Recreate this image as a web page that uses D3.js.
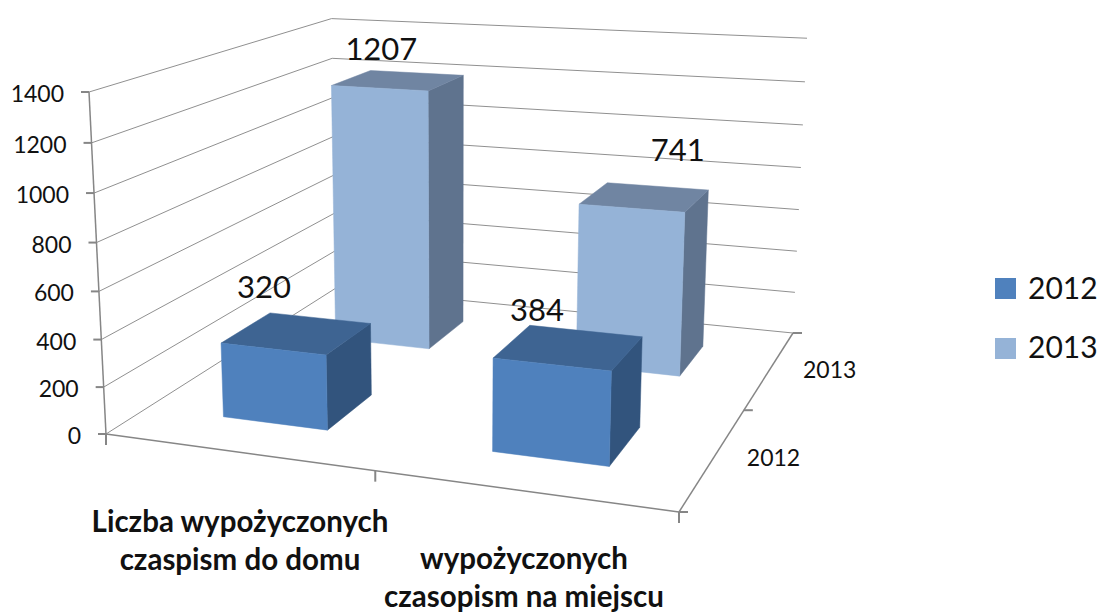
<!DOCTYPE html>
<html>
<head>
<meta charset="utf-8">
<script src="https://cdn.jsdelivr.net/npm/d3@7"></script>
<style>
  html, body { margin: 0; background: #fff; }
  text { font-family: Lato, "Open Sans", sans-serif; fill: #111; }
</style>
</head>
<body>
<div id="chart"></div>
<script>
// Data
const categories = ["Liczba wypożyczonych czaspism do domu", "wypożyczonych czasopism na miejscu"];
const series = ["2012", "2013"];
const values2012 = [320, 384];
const values2013 = [1207, 741];
const valueTicks = [0, 200, 400, 600, 800, 1000, 1200, 1400];

const width = 1102, height = 613;

const svg = d3.select("#chart")
    .append("svg")
    .attr("width", width)
    .attr("height", height);

// Corners of the 3D box in the picture, used to calibrate the projection
const floorFL = [106, 434], floorFR = [679, 512], floorBR = [793, 333], floorBL = [336, 288];
const topFL = [89, 92], topBR = [807, 40];

// Perspective matrix: floor homography plus a column for height
const dx1 = floorFR[0] - floorBR[0], dx2 = floorBL[0] - floorBR[0],
      dy1 = floorFR[1] - floorBR[1], dy2 = floorBL[1] - floorBR[1],
      sx = floorFL[0] - floorFR[0] + floorBR[0] - floorBL[0],
      sy = floorFL[1] - floorFR[1] + floorBR[1] - floorBL[1],
      den = dx1 * dy2 - dx2 * dy1;
const g = (sx * dy2 - dx2 * sy) / den,
      h = (dx1 * sy - sx * dy1) / den,
      a = floorFR[0] - floorFL[0] + g * floorFR[0],
      b = floorBL[0] - floorFL[0] + h * floorBL[0],
      c = floorFL[0],
      d = floorFR[1] - floorFL[1] + g * floorFR[1],
      e = floorBL[1] - floorFL[1] + h * floorBL[1],
      f = floorFL[1];
const r = (a + b + topFL[0] - topBR[0] * (g + h + 1)) / (topBR[0] - topFL[0]),
      p = topFL[0] * (1 + r) - c,
      q = topFL[1] * (1 + r) - f;

// u = along categories, w = depth, v = height, all 0..1
function project(u, w, v) {
    const z = g * u + h * w + 1 + r * v;
    return [(a * u + b * w + c + p * v) / z, (d * u + e * w + f + q * v) / z];
}

// Scales
const uScale = d3.scaleBand().domain(categories).range([0, 1]).paddingInner(0.6).paddingOuter(0.3);
const wScale = d3.scaleBand().domain(series).range([0, 1]).paddingInner(0.6).paddingOuter(0.3);
const vScale = d3.scaleLinear().domain([0, 1400]).range([0, 1]);

const pathLine = d3.line();
const gridColor = "#909090", axisColor = "#868686";

function seg(p0, p1, color, sw) {
    svg.append("path")
        .attr("d", pathLine([p0, p1]))
        .attr("fill", "none")
        .attr("stroke", color)
        .attr("stroke-width", sw);
}

// Gridlines on the left and back walls
valueTicks.forEach(t => {
    const v = vScale(t);
    seg(project(0, 0, v), project(0, 1, v), gridColor, 1);
    seg(project(0, 1, v), project(1, 1, v), gridColor, 1);
});

// Axis lines
seg(project(0, 0, 0), project(0, 0, 1), axisColor, 1.5);
seg(project(0, 0, 0), project(1, 0, 0), axisColor, 1.5);
seg(project(1, 0, 0), project(1, 1, 0), axisColor, 1.5);

// Value axis ticks and labels
valueTicks.forEach(t => {
    const pt = project(0, 0, vScale(t));
    seg([pt[0] - 8, pt[1]], pt, axisColor, 2);
    svg.append("text")
        .attr("x", pt[0] - 25)
        .attr("y", pt[1] + 10)
        .attr("text-anchor", "end")
        .attr("font-size", 23)
        .text(t);
});

// Category and series ticks
[0, 0.5, 1].forEach(t => {
    const pc = project(t, 0, 0);
    seg(pc, [pc[0], pc[1] + 11], axisColor, 2);
    const ps = project(1, t, 0);
    seg(ps, [ps[0] + 9, ps[1]], axisColor, 2);
});

// Series labels on the depth axis
series.forEach(s => {
    const pt = project(1, wScale(s) + wScale.bandwidth() / 2, 0);
    svg.append("text")
        .attr("x", pt[0] + 33)
        .attr("y", pt[1] + 9)
        .attr("font-size", 23)
        .text(s);
});

// Bars, back row first
const barColors = {
    "2012": { front: "#4f81bd", top: "#3e6492", side: "#32547d" },
    "2013": { front: "#95b3d7", top: "#7085a2", side: "#5f738e" }
};
const seriesValues = { "2012": values2012, "2013": values2013 };
const labelOffsets = { "2012": [[-33, -35], [-32, -26]], "2013": [[-17, -20], [33, -36]] };

function face(points, color) {
    svg.append("path")
        .attr("d", pathLine(points) + "Z")
        .attr("fill", color)
        .attr("stroke", color)
        .attr("stroke-width", 0.5);
}

[...series].reverse().forEach(s => {
    categories.forEach((cat, i) => {
        const u0 = uScale(cat), u1 = u0 + uScale.bandwidth();
        const w0 = wScale(s), w1 = w0 + wScale.bandwidth();
        const v = vScale(seriesValues[s][i]);
        const col = barColors[s];
        face([project(u1, w0, 0), project(u1, w1, 0), project(u1, w1, v), project(u1, w0, v)], col.side);
        face([project(u0, w0, v), project(u1, w0, v), project(u1, w1, v), project(u0, w1, v)], col.top);
        face([project(u0, w0, 0), project(u1, w0, 0), project(u1, w0, v), project(u0, w0, v)], col.front);
    });
});

// Data labels sit above the bars and are drawn last
series.forEach(s => {
    categories.forEach((cat, i) => {
        const uMid = uScale(cat) + uScale.bandwidth() / 2;
        const wMid = wScale(s) + wScale.bandwidth() / 2;
        const val = seriesValues[s][i];
        const pt = project(uMid, wMid, vScale(val));
        svg.append("text")
            .attr("x", pt[0] + labelOffsets[s][i][0])
            .attr("y", pt[1] + labelOffsets[s][i][1])
            .attr("text-anchor", "middle")
            .attr("font-size", 31)
            .text(val);
    });
});

// Category labels, wrapped like the original
const categoryLines = [
    { x: 240, y: 532, lines: ["Liczba wypożyczonych", "czaspism do domu"] },
    { x: 524, y: 569, lines: ["wypożyczonych", "czasopism na miejscu"] }
];
categoryLines.forEach(c => {
    c.lines.forEach((line, i) => {
        svg.append("text")
            .attr("x", c.x)
            .attr("y", c.y + i * 38)
            .attr("text-anchor", "middle")
            .attr("font-size", 29.5)
            .attr("font-weight", "bold")
            .text(line);
    });
});

// Legend
series.forEach((s, i) => {
    svg.append("rect")
        .attr("x", 995)
        .attr("y", 278 + i * 60)
        .attr("width", 21)
        .attr("height", 21)
        .attr("fill", barColors[s].front);
    svg.append("text")
        .attr("x", 1028)
        .attr("y", 299 + i * 59)
        .attr("font-size", 30)
        .text(s);
});
</script>
</body>
</html>
